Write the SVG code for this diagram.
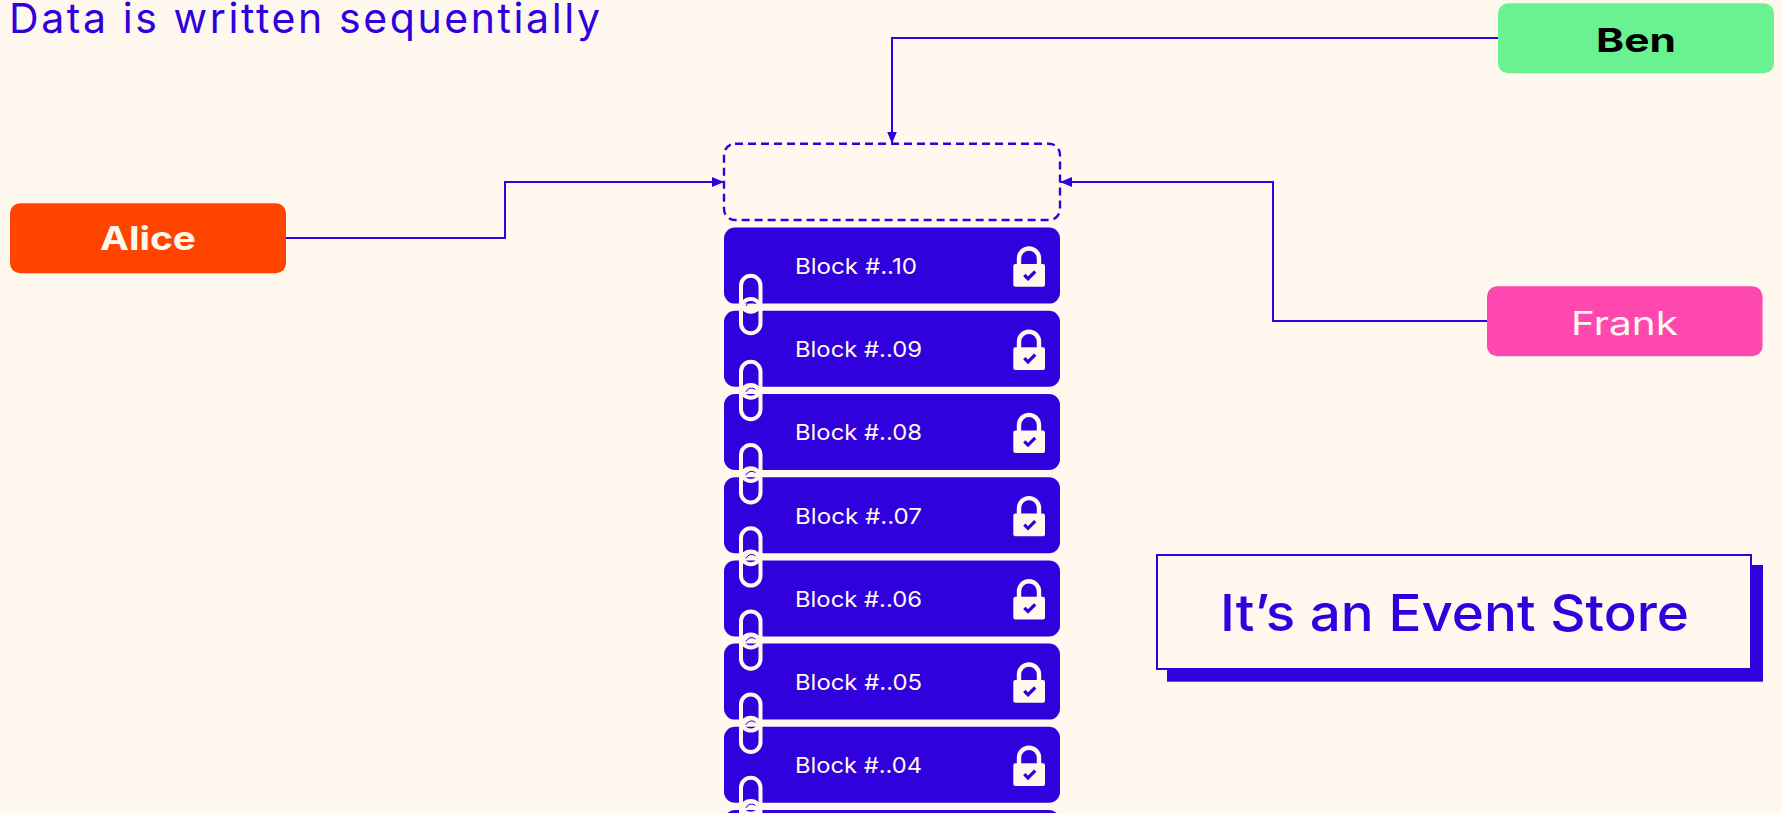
<svg xmlns="http://www.w3.org/2000/svg" width="1781" height="813" viewBox="0 0 1781 813">
<style>
text{font-family:"Inter","Liberation Sans",sans-serif}
.b{fill:#3000DD}
.l{font-size:22px;fill:#FFF8EE;font-weight:400}
.n{font-size:33px}
.c{fill:none;stroke:#3000DD;stroke-width:2;marker-end:url(#a)}
</style>
<defs>
<marker id="a" markerUnits="userSpaceOnUse" markerWidth="12" markerHeight="10" refX="12" refY="5" orient="auto"><path d="M0 0L12 5L0 10Z" fill="#3000DD"/></marker>
<g id="lock">
<path d="M1019 266V258.5a10 10 0 0 1 20 0V266" fill="none" stroke="#FFF8EE" stroke-width="4.4"/>
<rect x="1013.3" y="264" width="31.7" height="22.7" rx="2" fill="#FFF8EE"/>
<path d="M1024.3 275L1028 278.7L1035.2 271.5" fill="none" stroke="#3000DD" stroke-width="3.2"/>
</g>
<g id="chain" fill="none" stroke="#FFF8EE" stroke-width="4">
<rect x="741" y="275.8" width="19.5" height="36" rx="9.7"/>
<rect x="741" y="299" width="19.5" height="34.2" rx="9.7"/>
<path d="M746 306a6 6 0 0 1 9.5 -2.5" stroke="#3000DD" stroke-width="1"/>
</g>
</defs>
<rect width="1781" height="813" fill="#FFF8EE"/>
<text id="title" x="9" y="33" font-size="41" font-weight="400" textLength="591" fill="#3000DD">Data is written sequentially</text>
<g id="connectors">
<path class="c" d="M286 238H505V182H724"/>
<path class="c" d="M1498 38H892V143.5"/>
<path class="c" d="M1487 321H1273V182H1060"/>
</g>
<g id="alice"><rect x="10" y="203.3" width="276" height="70" rx="10" fill="#FF4400"/><text class="n" x="100" y="250" font-weight="700" textLength="96" lengthAdjust="spacingAndGlyphs" fill="#FFF8EE">Alice</text></g>
<g id="ben"><rect x="1498" y="3.3" width="276" height="70" rx="10" fill="#6AF191"/><text class="n" x="1596" y="51.7" font-weight="700" textLength="80" lengthAdjust="spacingAndGlyphs" fill="#000">Ben</text></g>
<g id="frank"><rect x="1487" y="286.3" width="275.5" height="70" rx="10" fill="#FF47B0"/><text class="n" x="1571" y="335" font-weight="400" textLength="107" lengthAdjust="spacingAndGlyphs" fill="#FFF8EE">Frank</text></g>
<g id="pending"><rect x="724" y="143.7" width="336" height="76.3" rx="11" fill="none" stroke="#3000DD" stroke-width="2.4" stroke-dasharray="8 5"/></g>
<g id="block10"><rect class="b" x="724" y="227.6" width="336" height="76" rx="11"/><text class="l" x="795" y="274" textLength="122" lengthAdjust="spacingAndGlyphs">Block #..10</text><use href="#lock"/></g>
<g id="block09"><rect class="b" x="724" y="310.8" width="336" height="76" rx="11"/><text class="l" x="795" y="357.2" textLength="127" lengthAdjust="spacingAndGlyphs">Block #..09</text><use href="#lock" y="83.2"/></g>
<g id="block08"><rect class="b" x="724" y="394" width="336" height="76" rx="11"/><text class="l" x="795" y="440.4" textLength="127" lengthAdjust="spacingAndGlyphs">Block #..08</text><use href="#lock" y="166.4"/></g>
<g id="block07"><rect class="b" x="724" y="477.2" width="336" height="76" rx="11"/><text class="l" x="795" y="523.6" textLength="127" lengthAdjust="spacingAndGlyphs">Block #..07</text><use href="#lock" y="249.6"/></g>
<g id="block06"><rect class="b" x="724" y="560.4" width="336" height="76" rx="11"/><text class="l" x="795" y="606.8" textLength="127" lengthAdjust="spacingAndGlyphs">Block #..06</text><use href="#lock" y="332.8"/></g>
<g id="block05"><rect class="b" x="724" y="643.6" width="336" height="76" rx="11"/><text class="l" x="795" y="690" textLength="127" lengthAdjust="spacingAndGlyphs">Block #..05</text><use href="#lock" y="416"/></g>
<g id="block04"><rect class="b" x="724" y="726.8" width="336" height="76" rx="11"/><text class="l" x="795" y="773.2" textLength="127" lengthAdjust="spacingAndGlyphs">Block #..04</text><use href="#lock" y="499.2"/></g>
<g id="block03"><rect class="b" x="724" y="810" width="336" height="76" rx="11"/></g>
<g id="chains">
<use href="#chain"/><use href="#chain" y="86"/><use href="#chain" y="169.2"/><use href="#chain" y="252.4"/><use href="#chain" y="335.6"/><use href="#chain" y="418.8"/><use href="#chain" y="502"/>
</g>
<g id="callout"><rect class="b" x="1167" y="565" width="596" height="116.7"/><rect x="1157" y="555" width="594" height="114" fill="#FFF8EE" stroke="#3000DD" stroke-width="2"/><text x="1220" y="630.7" font-size="51" font-weight="500" textLength="469" lengthAdjust="spacingAndGlyphs" fill="#3000DD">It’s an Event Store</text></g>
</svg>
